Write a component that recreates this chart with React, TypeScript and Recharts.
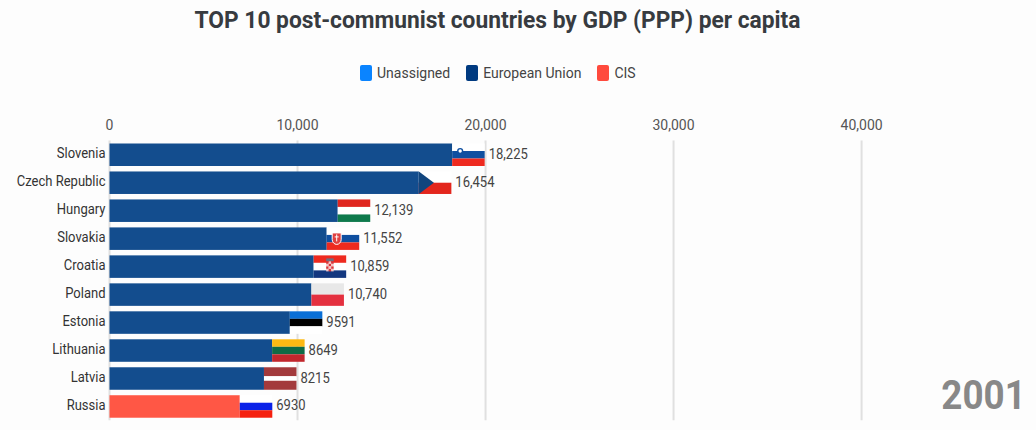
import { Bar, BarChart, CartesianGrid, LabelList, XAxis, YAxis } from "recharts";

const countries = ["Slovenia", "Czech Republic", "Hungary", "Slovakia", "Croatia", "Poland", "Estonia", "Lithuania", "Latvia", "Russia"];
const gdp = [18225, 16454, 12139, 11552, 10859, 10740, 9591, 8649, 8215, 6930];
const blocs = ["European Union", "European Union", "European Union", "European Union", "European Union", "European Union", "European Union", "European Union", "European Union", "CIS"];
const xTicks = [0, 10000, 20000, 30000, 40000];
const legendNames = ["Unassigned", "European Union", "CIS"];

const blocColors: Record<string, string> = {
  Unassigned: "#0a84ff",
  "European Union": "#003a80",
  CIS: "#ff4a3d",
};
const barColors: Record<string, string> = {
  "European Union": "#134d8e",
  CIS: "#ff5745",
};

// stripes top to bottom, [colour, relative height]
const flags: Record<string, [string, number][]> = {
  Slovenia: [["#ffffff", 1], ["#0f4fa0", 1], ["#ee2a1f", 1]],
  "Czech Republic": [["#ffffff", 1], ["#e3261d", 1]],
  Hungary: [["#e0261f", 1], ["#ffffff", 1], ["#0f7a4d", 1]],
  Slovakia: [["#ffffff", 1], ["#0f4fa0", 1], ["#ee2a1f", 1]],
  Croatia: [["#ee2a1f", 1], ["#ffffff", 1], ["#13377f", 1]],
  Poland: [["#e8e8e8", 1], ["#e4303f", 1]],
  Estonia: [["#0a6fd6", 1], ["#000000", 1], ["#ffffff", 1]],
  Lithuania: [["#fdb913", 1], ["#0f6a45", 1], ["#c1272d", 1]],
  Latvia: [["#a33a3c", 2], ["#ffffff", 1], ["#a33a3c", 2]],
  Russia: [["#ffffff", 1], ["#0a22e8", 1], ["#f5200f", 1]],
};

const rows = countries.map((country, i) => ({ country, gdp: gdp[i], bloc: blocs[i] }));

const fmt = (n: number) => (n >= 10000 ? n.toLocaleString("en-US") : String(n));

const FLAG_W = 32.5;
const FONT = "Roboto, sans-serif";

function CroatiaShield({ x, y }: { x: number; y: number }) {
  const cells = [];
  for (let r = 0; r < 4; r++) {
    for (let c = 0; c < 3; c++) {
      cells.push(
        <rect key={`${r}-${c}`} x={x + c * 2.5} y={y + 3 + r * 2.5} width={2.5} height={2.5} fill={(r + c) % 2 ? "#f4c4c4" : "#d9363a"} />
      );
    }
  }
  return (
    <g>
      <rect x={x} y={y} width={7.5} height={3} fill="#6f6f80" />
      {cells}
    </g>
  );
}

function FlagBar(props: any) {
  const { x, y, width, height, payload } = props;
  const fx = x + width;
  const stripes = flags[payload.country];
  const total = stripes.reduce((s, t) => s + t[1], 0);
  let cy = y;
  return (
    <g>
      <rect x={x} y={y} width={width} height={height} fill={barColors[payload.bloc]} />
      {stripes.map(([color, weight], i) => {
        const h = (height * weight) / total;
        const r = <rect key={i} x={fx} y={cy} width={FLAG_W} height={h} fill={color} />;
        cy += h;
        return r;
      })}
      {payload.country === "Czech Republic" && (
        <path d={`M${fx},${y}L${fx + 15},${y + height / 2}L${fx},${y + height}Z`} fill="#11457e" />
      )}
      {payload.country === "Slovenia" && (
        <circle cx={fx + 8} cy={y + height / 3} r={2.4} fill="#ffffff" stroke="#0f4fa0" strokeWidth={1.4} />
      )}
      {payload.country === "Slovakia" && (
        <g>
          <path d={`M${fx + 5.5},${y + 5.5}h9v6.5a4.5,5 0 0 1 -9,0Z`} fill="#e0403f" stroke="#ffffff" strokeWidth={1} />
          <path d={`M${fx + 10},${y + 7}v7M${fx + 8},${y + 9.5}h4`} stroke="#ffffff" strokeWidth={1} />
        </g>
      )}
      {payload.country === "Croatia" && <CroatiaShield x={fx + 12.5} y={y + 3} />}
    </g>
  );
}

function CategoryTick({ x, y, payload }: any) {
  return (
    <text
      x={0}
      y={0}
      dy={4}
      textAnchor="end"
      transform={`translate(${x},${y}) scale(0.93,1)`}
      fontSize={14}
      fill="#333"
      fontFamily={FONT}
    >
      {payload.value}
    </text>
  );
}

function ValueLabel({ x, y, width, height, value }: any) {
  return (
    <text
      x={0}
      y={0}
      dy={4}
      transform={`translate(${x + width + FLAG_W + 4},${y + height / 2}) scale(0.93,1)`}
      fontSize={14}
      fill="#444"
      fontFamily={FONT}
    >
      {fmt(value)}
    </text>
  );
}

export default function App() {
  return (
    <div style={{ position: "absolute", left: 0, top: 0, width: 1036, height: 430, background: "#fdfdfd", overflow: "hidden", fontFamily: FONT }}>
      <div style={{ position: "absolute", left: 0, width: 995, top: 6, textAlign: "center", fontSize: 24, fontWeight: 700, color: "#373b40", transform: "scaleX(0.948)" }}>
        TOP 10 post-communist countries by GDP (PPP) per capita
      </div>
      <div style={{ position: "absolute", left: 360, top: 65, display: "flex", alignItems: "center", fontSize: 14, color: "#444" }}>
        {legendNames.map((name) => (
          <span key={name} style={{ display: "flex", alignItems: "center", marginRight: 16 }}>
            <span style={{ width: 12, height: 16, borderRadius: 2, marginRight: 5, background: blocColors[name] }} />
            {name}
          </span>
        ))}
      </div>
      <BarChart
        width={1036}
        height={430}
        data={rows}
        layout="vertical"
        margin={{ top: 111, right: 24, bottom: 9.8, left: 0 }}
        style={{ position: "absolute", left: 0, top: 0 }}
      >
        <CartesianGrid horizontal={false} verticalValues={xTicks} stroke="#e0e0e0" strokeWidth={2} />
        <XAxis
          type="number"
          orientation="top"
          domain={[0, 48000]}
          ticks={xTicks}
          height={29.5}
          tickFormatter={(v: number) => v.toLocaleString("en-US")}
          axisLine={false}
          tickLine={false}
          tick={{ fontSize: 14, fill: "#555", fontFamily: FONT, dy: -3 }}
        />
        <YAxis
          type="category"
          dataKey="country"
          width={109.5}
          interval={0}
          axisLine={false}
          tickLine={false}
          tickMargin={-2}
          tick={CategoryTick}
        />
        <Bar dataKey="gdp" barSize={22.5} shape={FlagBar} isAnimationActive={false}>
          <LabelList dataKey="gdp" content={ValueLabel} />
        </Bar>
      </BarChart>
      <div style={{ position: "absolute", right: 10, top: 372, fontSize: 40, fontWeight: 700, color: "#888888", transform: "scaleX(0.92)", transformOrigin: "right" }}>2001</div>
    </div>
  );
}
